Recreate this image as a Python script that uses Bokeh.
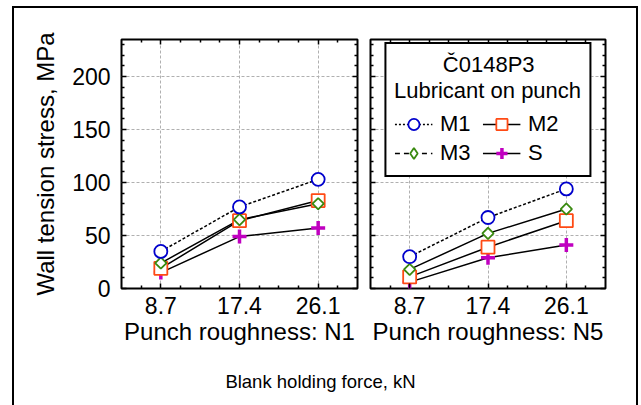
from bokeh.plotting import figure
from bokeh.models import Range1d, LinearAxis, FixedTicker, Legend, LegendItem, Label
from bokeh.layouts import column, row
from bokeh.embed import file_html
from bokeh.resources import INLINE

# ---------------- data ----------------
force = [8.7, 17.4, 26.1]
major_x = [8.7, 17.4, 26.1]
minor_x = [6.525, 10.875, 13.05, 15.225, 19.575, 21.75, 23.925, 28.275]
major_y = [0, 50, 100, 150, 200]
minor_y = [10, 20, 30, 40, 60, 70, 80, 90, 110, 120, 130, 140, 160, 170, 180, 190, 210, 220, 230]
grid_y = [50, 100, 150, 200]

n1_m1 = [35, 77, 103]
n1_m2 = [19, 64, 83]
n1_m3 = [24, 65, 80]
n1_s = [15, 49, 57]

n5_m1 = [30, 67, 94]
n5_m2 = [11, 39, 64]
n5_m3 = [18, 52, 75]
n5_s = [6, 29, 41]

series_names = ["M1", "M2", "M3", "S"]
panel_labels = ["Punch roughness: N1", "Punch roughness: N5"]
y_label = "Wall tension stress, MPa"
x_label = "Blank holding force, kN"
legend_title_lines = ["Č0148P3", "Lubricant on punch"]

# ---------------- styles ----------------
FONT = "Liberation Sans"
colors = {"M1": "#0000cc", "M2": "#ff4a14", "M3": "#3a8a10", "S": "#c000c0"}
markers = {"M1": "circle", "M2": "square", "M3": "square", "S": "cross"}
legend_markers = {"M1": "circle", "M2": "square", "M3": "diamond", "S": "cross"}
sizes = {"M1": 13, "M2": 13, "M3": 8, "S": 14}
angles = {"M1": 0, "M2": 0, "M3": 0.785398, "S": 0}
mwidth = {"M1": 1.8, "M2": 1.8, "M3": 1.8, "S": 3.5}
plot_dash = {"M1": "3 2", "M2": "solid", "M3": "solid", "S": "solid"}
legend_dash = {"M1": "2 2", "M2": "solid", "M3": "5 4", "S": "solid"}


def style_axis(ax, show_labels):
    ax.axis_line_color = None
    ax.major_tick_in = 5
    ax.major_tick_out = 0
    ax.minor_tick_in = 3
    ax.minor_tick_out = 0
    ax.major_tick_line_width = 1.5
    ax.minor_tick_line_width = 1.5
    ax.major_tick_line_color = "black"
    ax.minor_tick_line_color = "black"
    ax.major_label_text_font = FONT
    if show_labels:
        ax.major_label_text_color = "black"
        ax.major_label_text_font_size = "23px"
        ax.major_label_standoff = 8
    else:
        ax.major_label_text_color = None
        ax.major_label_text_alpha = 0
        ax.major_label_text_font_size = "1px"
        ax.major_label_standoff = 0
    ax.axis_label_text_font = FONT
    ax.axis_label_text_font_size = "24px"
    ax.axis_label_text_font_style = "normal"
    ax.axis_label_text_color = "black"


def make_panel(width, bl, br, label, data, left_labels):
    p = figure(width=width, height=342, x_range=Range1d(4.35, 30.45), y_range=Range1d(0, 235),
               output_backend="svg", toolbar_location=None,
               min_border_left=bl, min_border_right=br, min_border_top=31, min_border_bottom=62)
    p.outline_line_color = "black"
    p.outline_line_width = 2
    p.background_fill_color = "white"
    p.border_fill_color = "white"
    xt = FixedTicker(ticks=major_x, minor_ticks=minor_x)
    yt = FixedTicker(ticks=major_y, minor_ticks=minor_y)
    p.xaxis.ticker = xt
    p.yaxis.ticker = yt
    p.xaxis.axis_label = label
    style_axis(p.xaxis[0], True)
    style_axis(p.yaxis[0], left_labels)
    p.xaxis[0].axis_label_standoff = 1
    if left_labels:
        p.yaxis[0].axis_label = y_label
        p.yaxis[0].major_label_standoff = 11
        p.yaxis[0].axis_label_standoff = 10
    top = LinearAxis(ticker=xt)
    right = LinearAxis(ticker=yt)
    style_axis(top, False)
    style_axis(right, False)
    p.add_layout(top, "above")
    p.add_layout(right, "right")

    p.xgrid.ticker = FixedTicker(ticks=major_x)
    p.ygrid.ticker = FixedTicker(ticks=grid_y)
    for g in (p.xgrid[0], p.ygrid[0]):
        g.grid_line_color = "#b0b0b0"
        g.grid_line_dash = "3 2"
        g.grid_line_width = 1

    for name in series_names:
        p.line(force, data[name], line_color="black", line_width=1.5, line_dash=plot_dash[name])
    for name in ["S", "M2", "M3", "M1"]:
        p.scatter(force, data[name], marker=markers[name], size=sizes[name], angle=angles[name],
                  line_color=colors[name], line_width=mwidth[name], fill_color="white")
    return p


n5 = {"M1": n5_m1, "M2": n5_m2, "M3": n5_m3, "S": n5_s}
p1 = make_panel(349, 107, 6, panel_labels[0],
                {"M1": n1_m1, "M2": n1_m2, "M3": n1_m3, "S": n1_s}, True)
p2 = make_panel(273, 7, 31, panel_labels[1], n5, False)

# legend-only renderers (hidden on the plot, used for the legend swatches)
items = []
for name in series_names:
    lr = p2.line(force, n5[name], line_color="black", line_width=1.5,
                 line_dash=legend_dash[name], visible=False)
    mr = p2.scatter(force, n5[name], marker=legend_markers[name], size=sizes[name],
                    line_color=colors[name], line_width=mwidth[name], fill_color="white",
                    visible=False)
    items.append(LegendItem(label=name, renderers=[lr, mr]))

# centre the short first title line over the longer second one with no-break spaces
legend_title = "\u00a0" * 8 + legend_title_lines[0] + "\n" + legend_title_lines[1]

legend = Legend(items=items, location="top_center", orientation="horizontal", ncols=2,
                title=legend_title)
legend.title_text_font = FONT
legend.title_text_font_size = "22px"
legend.title_text_font_style = "normal"
legend.title_text_color = "black"
legend.title_standoff = 6
legend.label_text_font = FONT
legend.label_text_font_size = "22px"
legend.label_text_color = "black"
legend.glyph_width = 38
legend.glyph_height = 28
legend.label_height = 22
legend.label_width = 41
legend.label_standoff = 8
legend.spacing = 1
legend.padding = 8
legend.margin = 3
legend.border_line_color = "black"
legend.border_line_width = 2
legend.border_line_alpha = 1
legend.background_fill_color = "white"
legend.background_fill_alpha = 1
p2.add_layout(legend)

p3 = figure(width=622, height=60, output_backend="svg", toolbar_location=None,
            min_border=0, x_axis_location=None, y_axis_location=None,
            x_range=Range1d(0, 1), y_range=Range1d(0, 1))
p3.grid.visible = False
p3.outline_line_color = None
p3.add_layout(Label(x=306, y=29, x_units="screen", y_units="screen", text=x_label,
                    text_align="center", text_baseline="middle", text_font=FONT,
                    text_font_size="18.5px", text_color="black"))

lay = column(row(p1, p2), p3, margin=(6, 0, 0, 12),
             styles={"border-top": "2px solid black", "border-left": "2px solid black",
                     "border-right": "2px solid black"})

open("out.html", "w").write(file_html(lay, INLINE))
